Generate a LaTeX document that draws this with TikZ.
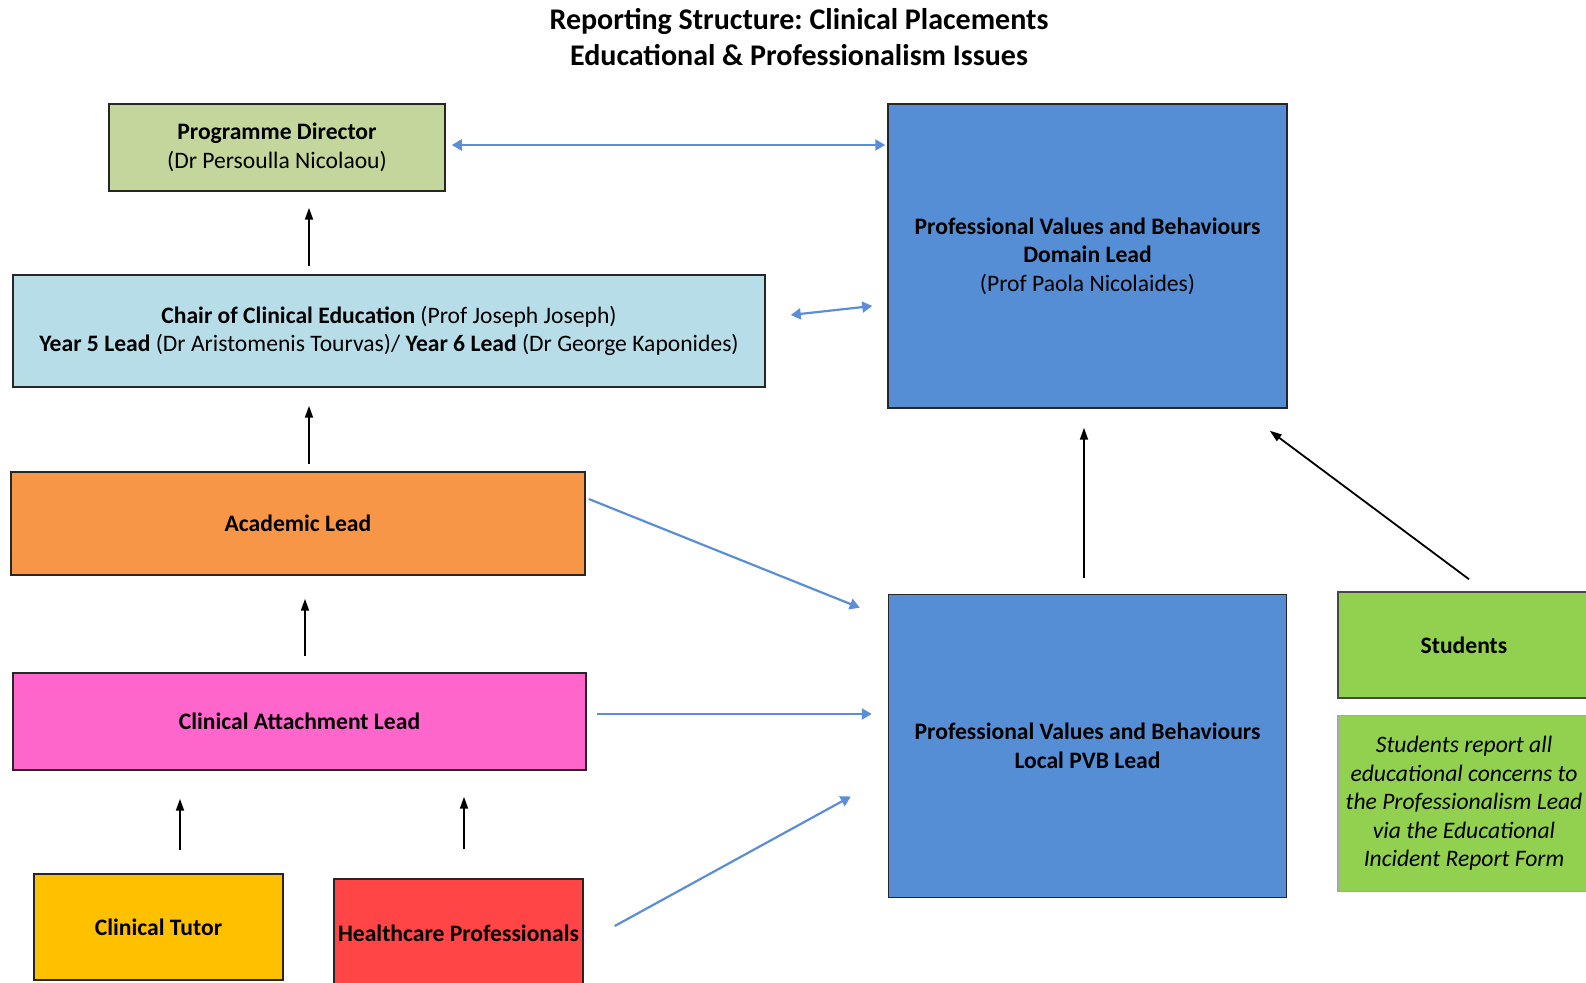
\documentclass[tikz,border=0pt]{standalone}
\usepackage{fontspec}
\setmainfont{Carlito}
\usetikzlibrary{positioning, arrows.meta}
\frenchspacing

\definecolor{pdgreen}{HTML}{C3D69B}
\definecolor{chairblue}{HTML}{B7DEE8}
\definecolor{acadorange}{HTML}{F79646}
\definecolor{calpink}{HTML}{FF66CC}
\definecolor{tutoryellow}{HTML}{FFC000}
\definecolor{hcpred}{HTML}{FF4545}
\definecolor{pvbblue}{HTML}{558ED5}
\definecolor{studgreen}{HTML}{92D050}
\definecolor{linkblue}{HTML}{5B8ED6}
\definecolor{boxline}{HTML}{262626}

\tikzset{
	box/.style={draw=boxline, line width=0.75pt, inner sep=0pt, align=center,
		font=\fontsize{11.8}{14.2}\selectfont},
	blkarrow/.style={->, >={Triangle[length=6pt,width=4pt]}, line width=0.9pt},
	bluearrow/.style={draw=linkblue, >={Triangle[length=5pt,width=5.5pt]}, line width=1.1pt}
}

\begin{document}
\begin{tikzpicture}
	[x=0.5pt, y=-0.5pt]
   \useasboundingbox (0,0) rectangle (1586,983);
   \node[align=center, font=\fontsize{15}{18}\selectfont\bfseries] (title) at (799,37)
      {Reporting Structure: Clinical Placements\\Educational \& Professionalism Issues};
   % left column
   \node[box, fill=pdgreen, minimum width=168pt, minimum height=43.5pt] (pd) at (277,147.5)
      {\textbf{Programme Director}\\(Dr Persoulla Nicolaou)};
   \node[box, fill=chairblue, minimum width=376pt, minimum height=56pt] (chair) at (389,331)
      {\textbf{Chair of Clinical Education} (Prof Joseph Joseph)\\
       \textbf{Year 5 Lead} (Dr Aristomenis Tourvas)/ \textbf{Year 6 Lead} (Dr George Kaponides)};
   \node[box, fill=acadorange, minimum width=287pt, minimum height=51.5pt] (acad) at (298,523.5)
      {\textbf{Academic Lead}};
   \node[box, fill=calpink, minimum width=286.5pt, minimum height=48.5pt] (cal) at (299.5,721.5)
      {\textbf{Clinical Attachment Lead}};
   \node[box, fill=tutoryellow, minimum width=124.5pt, minimum height=53pt] (tutor) at (158.5,927)
      {\textbf{Clinical Tutor}};
   \node[box, fill=hcpred, minimum width=124.5pt, minimum height=54pt] (hcp) at (458.5,933)
      {\textbf{Healthcare Professionals}};
   % right column
   \node[box, fill=pvbblue, minimum width=199.5pt, minimum height=152pt] (pvb_dom) at (1087.5,256)
      {\textbf{Professional Values and Behaviours}\\\textbf{Domain Lead}\\(Prof Paola Nicolaides)};
   \node[box, fill=pvbblue, minimum width=199pt, minimum height=151.5pt] (pvb_loc) [below=92.5pt of pvb_dom]
      {\textbf{Professional Values and Behaviours}\\\textbf{Local PVB Lead}};
   \node[box, draw=boxline!85, fill=studgreen, minimum width=126pt, minimum height=53pt] (stud) at (1464,645)
      {\textbf{Students}};
   \node[box, draw=gray!70, fill=studgreen, minimum width=126pt, minimum height=88pt] (note) [below=8pt of stud]
      {\itshape Students report all\\\itshape educational concerns to\\\itshape the Professionalism Lead\\
       \itshape via the Educational\\\itshape Incident Report Form};

   % reporting lines
   \draw[blkarrow, shorten <=4pt, shorten >=8pt]
      ([xshift=16pt]pd.south |- chair.north) -- ([xshift=16pt]pd.south);
   \draw[blkarrow, shorten <=3.5pt, shorten >=9pt]
      ([xshift=5.5pt]acad.north) -- ([xshift=5.5pt]acad.north |- chair.south);
   \draw[blkarrow, shorten <=8pt, shorten >=11.5pt]
      ([xshift=2.75pt]cal.north) -- ([xshift=2.75pt]cal.north |- acad.south);
   \draw[blkarrow, shorten <=11.5pt, shorten >=14pt]
      ([xshift=10.75pt]tutor.north) -- ([xshift=10.75pt]tutor.north |- cal.south);
   \draw[blkarrow, shorten <=14.5pt, shorten >=13pt]
      ([xshift=2.75pt]hcp.north) -- ([xshift=2.75pt]hcp.north |- cal.south);
   \draw[blkarrow, shorten <=8pt, shorten >=9.5pt]
      ([xshift=-1.75pt]pvb_loc.north) -- ([xshift=-1.75pt]pvb_loc.north |- pvb_dom.south);
   \draw[blkarrow]
      ([xshift=2.5pt,yshift=6pt]stud.north) -- ([xshift=-9pt,yshift=-11pt]pvb_dom.south east);

   % links to the PVB leads
   \draw[bluearrow, <->, shorten <=3pt, shorten >=1pt]
      ([yshift=1.25pt]pd.east) -- ([yshift=1.25pt]pd.east -| pvb_dom.west);
   \draw[bluearrow, <->]
      ([xshift=12.5pt,yshift=8pt]chair.east) -- ([xshift=-7.5pt,yshift=-25pt]pvb_dom.west);
   \draw[bluearrow, ->]
      ([xshift=1.5pt,yshift=12.25pt]acad.east) -- ([xshift=-14pt,yshift=-7pt]pvb_loc.north west);
   \draw[bluearrow, ->, shorten <=5pt, shorten >=8pt]
      ([yshift=3.75pt]cal.east) -- ([yshift=3.75pt]cal.east -| pvb_loc.west);
   \draw[bluearrow, ->]
      ([xshift=15.5pt,yshift=3.5pt]hcp.east) -- ([xshift=-18.5pt,yshift=-25.25pt]pvb_loc.west);
\end{tikzpicture}
\end{document}
